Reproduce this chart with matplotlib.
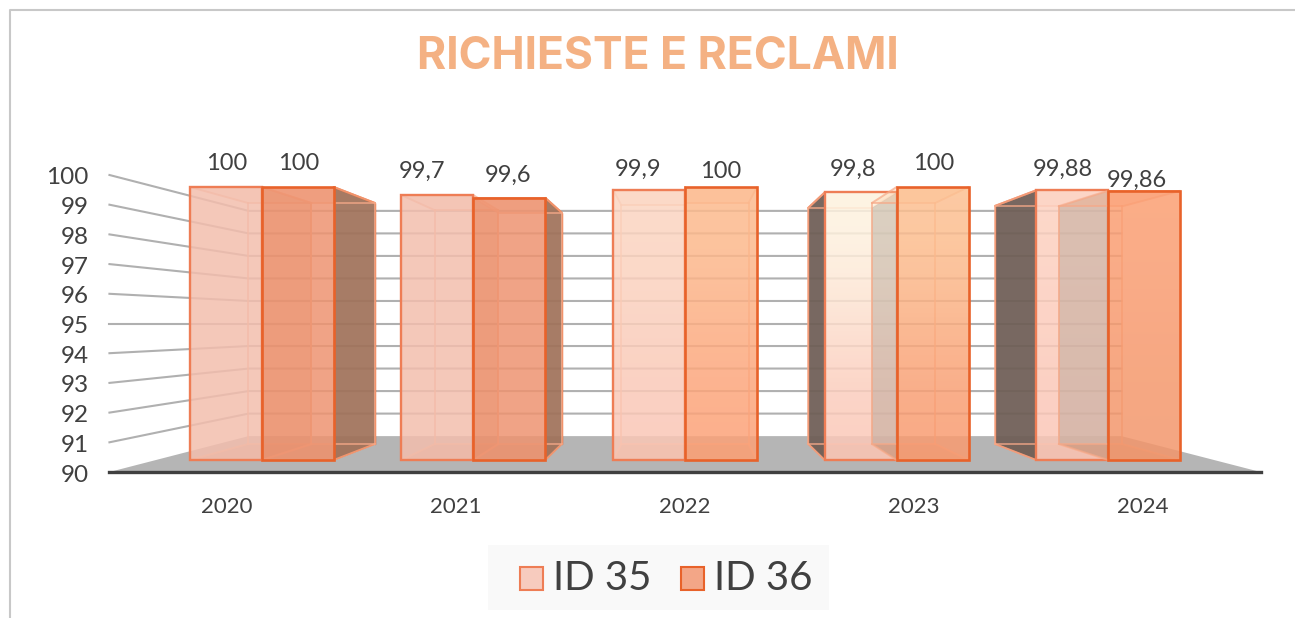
import numpy as np
import matplotlib.pyplot as plt
from matplotlib.colors import to_rgb
from matplotlib.patches import Polygon, Rectangle

plt.rcParams['font.family'] = ['Lato', 'DejaVu Sans']

years = ['2020', '2021', '2022', '2023', '2024']
id35 = [100, 99.7, 99.9, 99.8, 99.88]
id36 = [100, 99.6, 100, 100, 99.86]
labels35 = ['100', '99,7', '99,9', '99,8', '99,88']
labels36 = ['100', '99,6', '100', '100', '99,86']
ticks = list(range(90, 101))

# label nudges in pixels
nudge35 = [(1, 23), (-15, 24), (-11, 20), (-8, 23), (-9, 21)]
nudge36 = [(1, 23), (-1, 23), (0, 15), (1, 23), (-7, 10)]

# front face colours, top -> bottom
front35 = [('#F5C8BA', '#F5C8BA'), ('#F5C8BA', '#F5C8BA'), ('#FCDCCB', '#FBCFC1'),
           ('#FEF6E6', '#FCCFC2'), ('#FDD8CA', '#FCCFC2')]
front36 = [('#F1A486', '#F1A486'), ('#F1A486', '#F1A486'), ('#FDC6A0', '#FDAF8C'),
           ('#FDCBA3', '#FAA985'), ('#FCAD88', '#F5A681')]
side_dark = ['#A0725A', '#A0725A', '#A0725A', '#6E5D55', '#6E5D55']

EDGE35 = '#EE7D55'
EDGE36 = '#E8622A'
BACK_EDGE = '#F6A988'
GRID = '#B0B0B0'
FLOOR = '#B5B5B5'
TEXT = '#404040'
FRONT_ALPHA = 0.85

# perspective depth factors relative to the plane of the bar fronts
CX, CY = 2, 95
BAR_BACK = 0.883
WALL_BACK = 0.825
WALL_FRONT = 1.088
BAR_W = 0.34


def proj(x, v, s):
    return CX + (x - CX) * s, CY + (v - CY) * s


def face(ax, pts, color, alpha=1.0, z=2):
    ax.add_patch(Polygon(pts, closed=True, facecolor=color, alpha=alpha, edgecolor='none', zorder=z, clip_on=False))


def edge_line(ax, a, b, color, lw, z, alpha=1.0):
    ax.plot([a[0], b[0]], [a[1], b[1]], color=color, lw=lw, zorder=z, alpha=alpha, clip_on=False,
            solid_capstyle='round')


def gradient(ax, x0, x1, v, colors, z):
    c = np.array([to_rgb(colors[0]), to_rgb(colors[1])]).reshape(2, 1, 3)
    # colours are what shows over white, so undo the transparency
    c = np.clip((c - (1 - FRONT_ALPHA)) / FRONT_ALPHA, 0, 1)
    im = ax.imshow(c, extent=(x0, x1, 90, v), origin='upper', aspect='auto', interpolation='bicubic',
                   alpha=FRONT_ALPHA, zorder=z)
    im.set_clip_on(False)


def draw_bar(ax, fl, fr, v, colors, edge, lw, z):
    tl, tr = proj(fl, v, 1), proj(fr, v, 1)
    bl, br = proj(fl, 90, 1), proj(fr, 90, 1)
    btl, btr = proj(fl, v, BAR_BACK), proj(fr, v, BAR_BACK)
    bbl, bbr = proj(fl, 90, BAR_BACK), proj(fr, 90, BAR_BACK)
    face(ax, [bl, br, bbr, bbl], '#D9835A', 0.35, z=z)
    face(ax, [tl, tr, btr, btl], colors[0], 0.35, z=z)
    for a, b in [(btl, btr), (btl, bbl), (btr, bbr), (bbl, bbr), (tl, btl), (tr, btr), (bl, bbl), (br, bbr)]:
        edge_line(ax, a, b, BACK_EDGE, 1.4, z + 0.1, 0.7)
    gradient(ax, fl, fr, v, colors, z + 0.2)
    ax.add_patch(Rectangle((fl, 90), fr - fl, v - 90, facecolor='none', edgecolor=edge, linewidth=lw,
                           zorder=z + 0.4, clip_on=False))


fig = plt.figure(figsize=(12.95, 6.18), dpi=100)
ax = fig.add_axes([156 / 1295, (618 - 460) / 618, (1214 - 156) / 1295, (460 - 187) / 618])

left, right = -0.5, 4.5

# floor
face(ax, [proj(left, 90, WALL_FRONT), proj(right, 90, WALL_FRONT), proj(right, 90, WALL_BACK),
          proj(left, 90, WALL_BACK)], FLOOR, z=1)

# grid on back and left wall
for t in ticks[1:]:
    a = proj(left, t, WALL_FRONT)
    b = proj(left, t, WALL_BACK)
    c = proj(right, t, WALL_BACK)
    ax.plot([a[0], b[0], c[0]], [a[1], b[1], c[1]], color=GRID, lw=1.5, zorder=1.2, clip_on=False)

# front axis line
a, b = proj(left, 90, WALL_FRONT), proj(right, 90, WALL_FRONT)
ax.plot([a[0], b[0]], [a[1], b[1]], color=TEXT, lw=2.4, zorder=1.4, clip_on=False)

for i in range(len(years)):
    x0, x1, x2 = i - BAR_W, i, i + BAR_W
    draw_bar(ax, x0, x1, id35[i], front35[i], EDGE35, 1.7, 3 + i)
    draw_bar(ax, x1, x2, id36[i], front36[i], EDGE36, 1.9, 3.5 + i)

    # shared side between the two bars
    v = min(id35[i], id36[i])
    shade = '#C9835F' if i < 2 else '#A89A8C'
    face(ax, [proj(x1, 90, 1), proj(x1, v, 1), proj(x1, v, BAR_BACK), proj(x1, 90, BAR_BACK)],
         shade, 0.4, z=3.45 + i)

    # dark outer side
    if i < 2:
        x, v, edge, z = x2, id36[i], EDGE36, 3.55 + i
    elif i > 2:
        x, v, edge, z = x0, id35[i], EDGE35, 3.05 + i
    else:
        continue
    face(ax, [proj(x, 90, 1), proj(x, v, 1), proj(x, v, BAR_BACK), proj(x, 90, BAR_BACK)],
         side_dark[i], 0.93, z=z)
    edge_line(ax, proj(x, v, 1), proj(x, v, BAR_BACK), edge, 1.4, z + 0.02)
    edge_line(ax, proj(x, v, BAR_BACK), proj(x, 90, BAR_BACK), edge, 1.0, z + 0.02)
    edge_line(ax, proj(x, 90, 1), proj(x, 90, BAR_BACK), edge, 1.0, z + 0.02)

# data labels
for i in range(len(years)):
    ax.annotate(labels35[i], (i - BAR_W / 2, id35[i]), xytext=nudge35[i], textcoords='offset pixels',
                ha='center', va='center', fontsize=17, color=TEXT, zorder=20, annotation_clip=False)
    ax.annotate(labels36[i], (i + BAR_W / 2, id36[i]), xytext=nudge36[i], textcoords='offset pixels',
                ha='center', va='center', fontsize=17, color=TEXT, zorder=20, annotation_clip=False)

# value axis labels
for t in ticks:
    x, y = proj(left, t, WALL_FRONT)
    ax.annotate(str(t), (x, y), xytext=(-21, -3), textcoords='offset pixels', ha='right', va='center',
                fontsize=17.5, color=TEXT, annotation_clip=False)

# category labels
for i, y in enumerate(years):
    ax.annotate(y, (i, 90), xytext=((i - 2) * 17.5, -47), textcoords='offset pixels', ha='center',
                va='center', fontsize=16, color=TEXT, annotation_clip=False)

ax.set_xlim(left, right)
ax.set_ylim(90, 100)
ax.set_axis_off()

# chart frame
fig.add_artist(plt.Line2D([10 / 1295, 10 / 1295, 1], [0, 608 / 618, 608 / 618], color='#C8C8C8', lw=1.5))
fig.text(658 / 1295, 1 - 57 / 618, 'RICHIESTE E RECLAMI', ha='center', va='center', fontsize=32,
         fontweight='bold', color='#F4B183', family='Inter')

# legend
fig.patches.append(Rectangle((488 / 1295, 8 / 618), 341 / 1295, 65 / 618, transform=fig.transFigure,
                             facecolor='#F9F9F9', edgecolor='none', figure=fig))
for px, label, fc, ec, tx in [(520, 'ID 35', '#F7CBBE', EDGE35, 553), (681, 'ID 36', '#F3A687', EDGE36, 714)]:
    fig.patches.append(Rectangle((px / 1295, (618 - 590) / 618), 23 / 1295, 23 / 618, transform=fig.transFigure,
                                 facecolor=fc, edgecolor=ec, linewidth=1.5, figure=fig))
    fig.text(tx / 1295, 1 - 579 / 618, label, ha='left', va='center', fontsize=29, color=TEXT)

fig.savefig('out.png', dpi=100)
